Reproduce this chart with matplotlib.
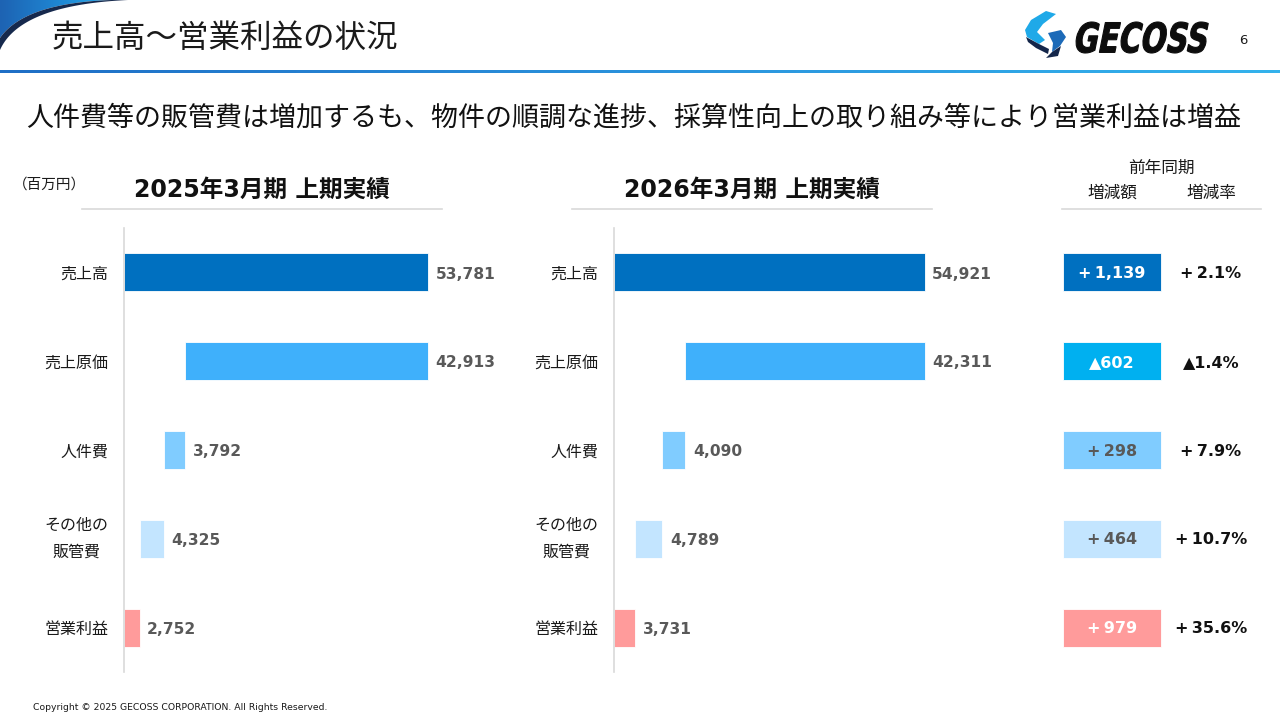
import matplotlib
matplotlib.use("Agg")
import matplotlib.pyplot as plt
import numpy as np
from matplotlib.patches import Polygon, PathPatch
from matplotlib.path import Path
from matplotlib.textpath import TextPath
from matplotlib.font_manager import FontProperties
from matplotlib.colors import LinearSegmentedColormap

# ---------------- data ----------------
categories = ["売上高", "売上原価", "人件費", "その他の\n販管費", "営業利益"]
fy2025_values = [53781, 42913, 3792, 4325, 2752]
fy2026_values = [54921, 42311, 4090, 4789, 3731]
yoy_change = [1139, -602, 298, 464, 979]
yoy_rate = [2.1, -1.4, 7.9, 10.7, 35.6]

title_text = "売上高～営業利益の状況"
subtitle_text = "人件費等の販管費は増加するも、物件の順調な進捗、採算性向上の取り組み等により営業利益は増益"
chart_titles = ["2025年3月期 上期実績", "2026年3月期 上期実績"]
unit_text = "（百万円）"
table_header = "前年同期"
table_cols = ["増減額", "増減率"]
copyright_text = "Copyright © 2025 GECOSS CORPORATION. All Rights Reserved."
page_no = "6"

bar_colors = ["#0070c0", "#3fb0fb", "#80ccff", "#c3e5ff", "#ff9b9b"]
box_colors = ["#0070c0", "#00b0f0", "#80ccff", "#c3e5ff", "#ff9b9b"]
box_text_colors = ["white", "white", "#595959", "#595959", "white"]

JP = ["Noto Sans CJK JP", "DejaVu Sans"]
NUM = ["DejaVu Sans", "Noto Sans CJK JP"]

W, H = 1280, 720
fig = plt.figure(figsize=(W / 100, H / 100), dpi=100)
fig.patch.set_facecolor("white")


def px(x0, y0, x1, y1):
    return [x0 / W, 1 - y1 / H, (x1 - x0) / W, (y1 - y0) / H]


# ---------------- overlay (header / decoration) ----------------
ov = fig.add_axes([0, 0, 1, 1], zorder=0)
ov.set_xlim(0, W)
ov.set_ylim(H, 0)
ov.set_autoscale_on(False)
ov.axis("off")

# corner swoosh
t = np.linspace(0, 1, 60)


def bez(p0, p1, p2):
    p0, p1, p2 = map(np.array, (p0, p1, p2))
    return ((1 - t)[:, None] ** 2) * p0 + (2 * (1 - t) * t)[:, None] * p1 + (t[:, None] ** 2) * p2


outer = bez((0, 50), (20, 5), (128, 0))
inner = bez((0, 38), (24, 3), (112, 0))
band = np.vstack([outer, inner[::-1]])
light = np.vstack([[(0, 0)], inner, [(0, 0)]])
grad = np.linspace(0, 1, 100).reshape(1, -1)
cmap_sw = LinearSegmentedColormap.from_list("sw", ["#1d63b3", "#1f8ad6", "#30b4ee"])
im = ov.imshow(grad, extent=(0, 128, 50, 0), cmap=cmap_sw, aspect="auto", zorder=1)
clip = Polygon(light, closed=True, transform=ov.transData, facecolor="none", edgecolor="none")
ov.add_patch(clip)
im.set_clip_path(clip)
ov.add_patch(Polygon(band, closed=True, facecolor="#16294d", edgecolor="none", zorder=2))

# header gradient line
cmap_line = LinearSegmentedColormap.from_list("ln", ["#1f6fc6", "#2a92dc", "#34b2ec"])
ov.imshow(grad, extent=(0, W, 73.2, 70.8), cmap=cmap_line, aspect="auto", zorder=1)

ov.text(52, 38, title_text, fontsize=22.7, family=JP, color="#1a1a1a", va="center", ha="left")
ov.text(1243, 40, page_no, fontsize=9.5, family=NUM, color="#1a1a1a", va="center", ha="center")
ov.text(634, 118, subtitle_text, fontsize=19.45, family=JP, color="#111111", va="center", ha="center")
ov.text(13, 185, unit_text, fontsize=10.5, family=JP, color="#1a1a1a", va="center", ha="left")
ov.text(33, 707, copyright_text, fontsize=6.65, family=NUM, color="#1a1a1a", va="center", ha="left")

# logo icon
cyan = [(1046, 11), (1056, 14), (1043, 24), (1037, 32), (1045, 40), (1039, 44), (1027, 37), (1025, 30), (1031, 20)]
navy1 = [(1026, 37), (1039, 44), (1049, 49), (1048, 54), (1036, 48), (1028, 42)]
blue = [(1048, 33), (1061, 30), (1066, 37), (1060, 46), (1052, 52), (1053, 43)]
navy2 = [(1052, 52), (1061, 46), (1058, 56), (1046, 58)]
ov.add_patch(Polygon(cyan, closed=True, facecolor="#1fa9e8", edgecolor="none", zorder=3))
ov.add_patch(Polygon(navy1, closed=True, facecolor="#14264a", edgecolor="none", zorder=3))
ov.add_patch(Polygon(blue, closed=True, facecolor="#1c6ab8", edgecolor="none", zorder=3))
ov.add_patch(Polygon(navy2, closed=True, facecolor="#14264a", edgecolor="none", zorder=3))

# logo text scaled to box
tp = TextPath((0, 0), "GECOSS", size=10, prop=FontProperties(family="DejaVu Sans", weight="bold"))
verts = tp.vertices.copy()
x0, y0 = verts.min(axis=0)
x1, y1 = verts.max(axis=0)
bx0, by0, bw, bh = 1072, 22, 138, 31
skew = 0.2
nx = (verts[:, 0] - x0) / (x1 - x0)
ny = (verts[:, 1] - y0) / (y1 - y0)
X = bx0 + nx * (bw - skew * bh) + skew * ny * bh
Y = by0 + bh - ny * bh
ov.add_patch(PathPatch(Path(np.column_stack([X, Y]), tp.codes), facecolor="#0d0d0d",
                       edgecolor="#0d0d0d", linewidth=0.8, zorder=3))

# chart headers & underlines
for cx, (lx0, lx1), txt in [(262, (82, 442), chart_titles[0]), (752, (572, 932), chart_titles[1])]:
    ov.text(cx, 190, txt, fontsize=17, family=NUM, weight="bold", color="#111111", va="center", ha="center")
    ov.plot([lx0, lx1], [208.5, 208.5], color="#d9d9d9", lw=1.2, zorder=1)
ov.plot([1062, 1261], [208.5, 208.5], color="#d9d9d9", lw=1.2, zorder=1)
ov.text(1161, 168, table_header, fontsize=12, family=JP, color="#1a1a1a", va="center", ha="center")
ov.text(1112, 193, table_cols[0], fontsize=12, family=JP, color="#1a1a1a", va="center", ha="center")
ov.text(1211, 193, table_cols[1], fontsize=12, family=JP, color="#1a1a1a", va="center", ha="center")


# ---------------- waterfall charts ----------------
def waterfall(ax, vals):
    rev, cost, pers, other, op = vals
    starts = [0, rev - cost, rev - cost - pers, rev - cost - pers - other, 0]
    ends = [s + v for s, v in zip(starts, vals)]
    ypos = np.arange(len(vals))
    ax.barh(ypos, vals, left=starts, height=0.43, color=bar_colors,
            edgecolor="white", linewidth=0.6, zorder=2)
    for y, e, v in zip(ypos, ends, vals):
        ax.annotate(f"{v:,}", xy=(e, y), xytext=(5.5, -1.2), textcoords="offset points",
                    va="center", ha="left", fontsize=11.2, weight="bold", color="#595959",
                    family=NUM)
    ax.set_xlim(0, 66500)
    ax.set_ylim(4.5, -0.5)
    ax.set_yticks(ypos)
    labels = ax.set_yticklabels(categories, family=JP, fontsize=11.5, color="#1a1a1a",
                                multialignment="center", linespacing=1.8)
    for lb in labels:
        if "\n" in lb.get_text():
            lb.set_verticalalignment("center")
        else:
            lb.set_verticalalignment("center_baseline")
    ax.tick_params(axis="y", length=0, pad=11.5)
    ax.set_xticks([])
    for s in ["top", "right", "bottom"]:
        ax.spines[s].set_visible(False)
    ax.spines["left"].set_color("#d9d9d9")
    ax.spines["left"].set_linewidth(1.2)
    ax.set_facecolor("none")


ax1 = fig.add_axes(px(124, 228, 500, 672), zorder=2)
waterfall(ax1, fy2025_values)
ax2 = fig.add_axes(px(614, 228, 990, 672), zorder=2)
waterfall(ax2, fy2026_values)

# ---------------- change table ----------------
axt = fig.add_axes(px(1063, 228, 1261, 672), zorder=2)
axt.set_xlim(0, 198)
axt.set_ylim(4.5, -0.5)
axt.axis("off")
ypos = np.arange(len(yoy_change))
axt.barh(ypos, [98] * len(ypos), left=0, height=0.43, color=box_colors, edgecolor="white", linewidth=0.6)


def fmt_change(v):
    return ("+\u2009" if v >= 0 else "▲") + f"{abs(v):,}"


def fmt_rate(v):
    return ("+\u2009" if v >= 0 else "▲") + f"{abs(v):.1f}%"


for y, c, r, tc in zip(ypos, yoy_change, yoy_rate, box_text_colors):
    axt.annotate(fmt_change(c), xy=(49, y), xytext=(0, -0.8), textcoords="offset points",
                 ha="center", va="center", fontsize=11.5, weight="bold", color=tc, family=NUM)
    axt.annotate(fmt_rate(r), xy=(148, y), xytext=(0, -0.8), textcoords="offset points",
                 ha="center", va="center", fontsize=11.5, weight="bold", color="#111111", family=NUM)

fig.savefig("out.png", dpi=100, facecolor="white")
